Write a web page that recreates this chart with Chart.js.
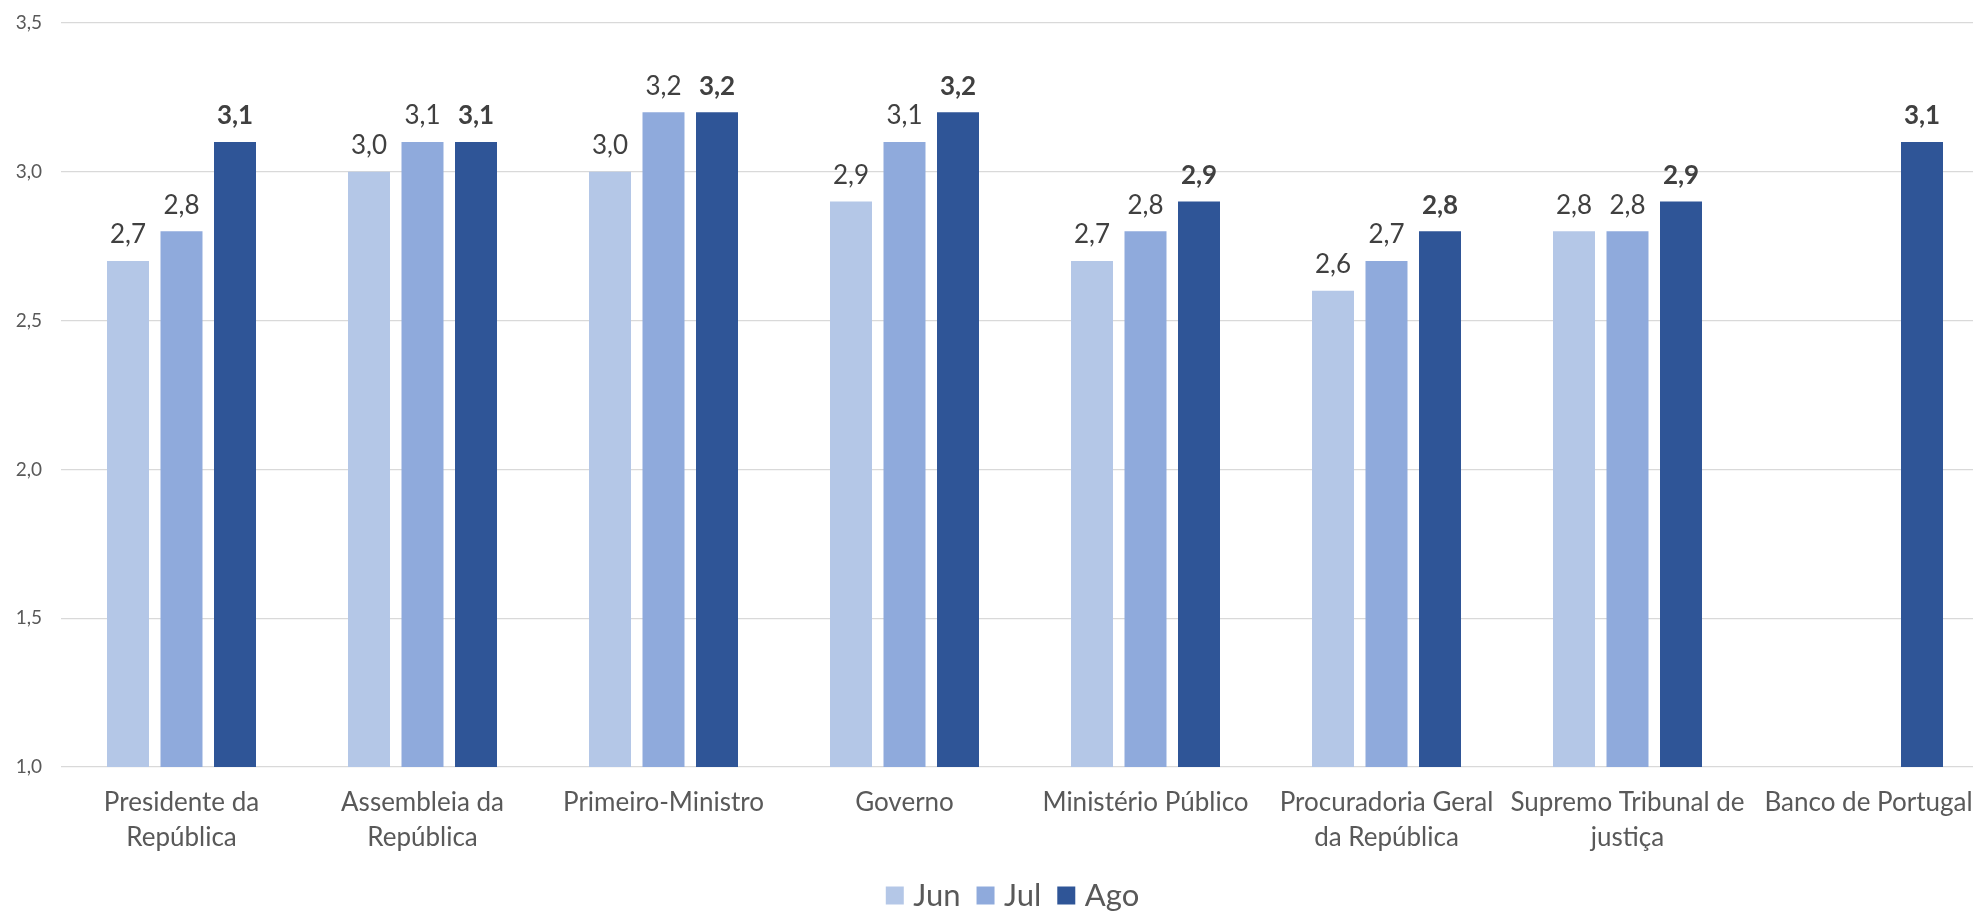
<!DOCTYPE html>
<html>
<head>
<meta charset="utf-8">
<script src="https://cdn.jsdelivr.net/npm/chart.js@4.4.1/dist/chart.umd.min.js"></script>
<style>
html,body{margin:0;padding:0;background:#fff;overflow:hidden;}
#wrap{position:absolute;left:0;top:0;width:2023px;height:921px;}
</style>
</head>
<body>
<div id="wrap"><canvas id="c"></canvas></div>
<script>
const categories = [
  ["Presidente da","República"],
  ["Assembleia da","República"],
  "Primeiro-Ministro",
  "Governo",
  "Ministério Público",
  ["Procuradoria Geral","da República"],
  ["Supremo Tribunal de","justiça"],
  "Banco de Portugal"
];
const seriesNames = ["Jun","Jul","Ago"];
const jun = [2.7, 3.0, 3.0, 2.9, 2.7, 2.6, 2.8, null];
const jul = [2.8, 3.1, 3.2, 3.1, 2.8, 2.7, 2.8, null];
const ago = [3.1, 3.1, 3.2, 3.2, 2.9, 2.8, 2.9, 3.1];
const yTicks = [1.0, 1.5, 2.0, 2.5, 3.0, 3.5];
const colors = ["#B4C7E7", "#8FAADC", "#2F5597"];

const fmt = v => v.toFixed(1).replace('.', ',');
const FONT = "Lato, 'Open Sans', sans-serif";

const dataLabels = {
  id: 'dataLabels',
  afterDatasetsDraw(chart) {
    const ctx = chart.ctx;
    chart.data.datasets.forEach((ds, i) => {
      const meta = chart.getDatasetMeta(i);
      meta.data.forEach((bar, j) => {
        const v = ds.data[j];
        if (v === null || v === undefined) return;
        ctx.save();
        ctx.font = (i === 2 ? 'bold ' : '') + '26px ' + FONT;
        ctx.fillStyle = '#404040';
        ctx.textAlign = 'center';
        ctx.textBaseline = 'middle';
        ctx.fillText(fmt(v), bar.x, bar.y - 26);
        ctx.restore();
      });
    });
  }
};

const legendShift = {
  id: 'legendShift',
  afterLayout(chart) {
    if (chart.legend) { chart.legend.left += 42; }
  }
};

new Chart(document.getElementById('c'), {
  type: 'bar',
  data: {
    labels: categories,
    datasets: [
      { label: seriesNames[0], data: jun, backgroundColor: colors[0] },
      { label: seriesNames[1], data: jul, backgroundColor: colors[1] },
      { label: seriesNames[2], data: ago, backgroundColor: colors[2] }
    ]
  },
  options: {
    responsive: true,
    maintainAspectRatio: false,
    animation: false,
    datasets: { bar: { categoryPercentage: 0.666, barPercentage: 0.785 } },
    layout: { padding: { top: 23, right: 34, left: 0, bottom: 0 } },
    plugins: {
      tooltip: { enabled: false },
      legend: {
        position: 'bottom',
        labels: {
          font: { family: FONT, size: 31 },
          color: '#595959',
          usePointStyle: true,
          pointStyle: 'rect',
          boxWidth: 6,
          boxHeight: 18,
          padding: 22
        }
      }
    },
    scales: {
      x: {
        grid: { display: false, drawTicks: false },
        border: { display: false },
        ticks: {
          font: { family: FONT, size: 26, lineHeight: 1.35 },
          color: '#595959',
          padding: 18,
          maxRotation: 0,
          autoSkip: false
        },
        afterFit(scale) { scale.height = 91; }
      },
      y: {
        min: 1,
        max: 3.5,
        afterBuildTicks(scale) { scale.ticks = yTicks.map(v => ({ value: v })); },
        grid: { color: '#D9D9D9', lineWidth: 1.3, drawTicks: false },
        border: { display: false },
        ticks: {
          font: { family: FONT, size: 19 },
          color: '#595959',
          padding: 19,
          callback: v => fmt(v)
        },
        afterFit(scale) {
          scale.width = 61;
          scale.paddingTop = 0;
          scale.paddingBottom = 0;
        }
      }
    }
  },
  plugins: [dataLabels, legendShift]
});
</script>
</body>
</html>
